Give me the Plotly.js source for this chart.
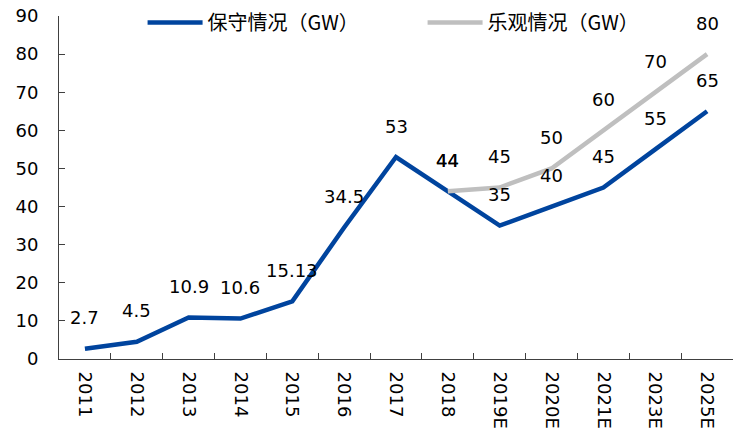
<!DOCTYPE html>
<html>
<head>
<meta charset="utf-8">
<script src="https://cdn.plot.ly/plotly-3.0.1.min.js"></script>
<style>html,body{margin:0;padding:0;background:#fff}#chart{width:742px;height:438px}</style>
</head>
<body>
<div id="chart"></div>
<script>
const categories = ["2011","2012","2013","2014","2015","2016","2017","2018","2019E","2020E","2021E","2023E","2025E"];
const conservative = [2.7, 4.5, 10.9, 10.6, 15.13, 34.5, 53, 44, 35, 40, 45, 55, 65];
const optimisticCats = ["2018","2019E","2020E","2021E","2023E","2025E"];
const optimistic = [44, 45, 50, 60, 70, 80];
const seriesNames = ["保守情况（GW）", "乐观情况（GW）"];

const FONT = "DejaVu Sans, Verdana, 'Noto Sans CJK SC', sans-serif";
const BLUE = "#00449E";
const GRAY = "#BFBFBF";

const traces = [
  {x: categories, y: conservative, name: seriesNames[0], type: "scatter", mode: "lines",
   line: {color: BLUE, width: 4.5}},
  {x: optimisticCats, y: optimistic, name: seriesNames[1], type: "scatter", mode: "lines",
   line: {color: GRAY, width: 4.5}}
];

const labelFont = {family: FONT, size: 18, color: "#000"};
const annotations = [];
categories.forEach((c, i) => annotations.push({x: i, y: conservative[i], text: String(conservative[i]),
  showarrow: false, yshift: 31, font: labelFont}));
optimisticCats.forEach((c, i) => annotations.push({x: categories.indexOf(c), y: optimistic[i], text: String(optimistic[i]),
  showarrow: false, yshift: 31, font: labelFont}));

const layout = {
  width: 742, height: 438,
  margin: {l: 59, r: 9, t: 16, b: 79, autoexpand: false},
  paper_bgcolor: "#fff", plot_bgcolor: "#fff",
  font: {family: FONT, size: 18, color: "#000"},
  showlegend: true,
  legend: {orientation: "h", x: 0.124, y: 0.993, yref: "container", xanchor: "left", yanchor: "top",
    font: {family: "'Noto Sans CJK SC', sans-serif", size: 20, color: "#000"},
    bgcolor: "rgba(0,0,0,0)", itemwidth: 55,
    entrywidth: 210, entrywidthmode: "pixels"},
  xaxis: {type: "category", range: [-0.5, 12.5], showline: true, linecolor: "#404040", linewidth: 1,
    ticks: "inside", ticklen: 6, tickcolor: "#404040", tickson: "boundaries",
    tickangle: 90, showgrid: false, zeroline: false, ticklabelstandoff: 8,
    tickfont: {family: FONT, size: 18, color: "#000"}},
  yaxis: {range: [0, 90], dtick: 10, showline: true, linecolor: "#404040", linewidth: 1,
    ticks: "inside", ticklen: 6, tickcolor: "#404040", showgrid: false, zeroline: false,
    ticklabelstandoff: 16, tickfont: {family: FONT, size: 18, color: "#000"}},
  annotations: annotations
};

Plotly.newPlot("chart", traces, layout, {displayModeBar: false, staticPlot: true});
</script>
</body>
</html>
